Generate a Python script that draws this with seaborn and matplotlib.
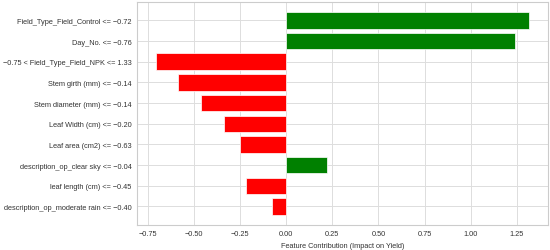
import seaborn as sns
import matplotlib.pyplot as plt

features = [
    "Field_Type_Field_Control <= \u22120.72",
    "Day_No. <= \u22120.76",
    "\u22120.75 < Field_Type_Field_NPK <= 1.33",
    "Stem girth (mm) <= \u22120.14",
    "Stem diameter (mm) <= \u22120.14",
    "Leaf Width (cm) <= \u22120.20",
    "Leaf area (cm2) <= \u22120.63",
    "description_op_clear sky <= \u22120.04",
    "leaf length (cm) <= \u22120.45",
    "description_op_moderate rain <= \u22120.40",
]
contributions = [1.317, 1.243, -0.708, -0.587, -0.460, -0.337, -0.248, 0.219, -0.219, -0.078]

colors = ["green" if v > 0 else "red" for v in contributions]

sns.set_style("whitegrid")
plt.rcParams["font.family"] = ["Liberation Sans", "DejaVu Sans"]

fig, ax = plt.subplots(figsize=(5.5, 2.51), dpi=100)
sns.barplot(x=contributions, y=features, hue=features, palette=colors,
            legend=False, orient="h", width=0.8, saturation=1,
            edgecolor="white", linewidth=0.5, ax=ax)
# matplotlib-style 5% margins around the bars
n = len(features)
pad = 0.05 * (n - 1 + 0.8)
ax.set_ylim(n - 1 + 0.4 + pad, -0.4 - pad)
ax.set_xlabel("Feature Contribution (Impact on Yield)", fontsize=5.3, labelpad=3,
              color="#333333")
ax.set_ylabel("")
ax.tick_params(axis="both", labelsize=5.3, pad=4, length=0, labelcolor="#333333")
for s in ax.spines.values():
    s.set_color("#cccccc")
    s.set_linewidth(0.8)
ax.grid(True, color="#dddddd", linewidth=0.7)
fig.subplots_adjust(left=0.249, right=0.996, top=0.988, bottom=0.10)
fig.savefig("out.png", dpi=100)
